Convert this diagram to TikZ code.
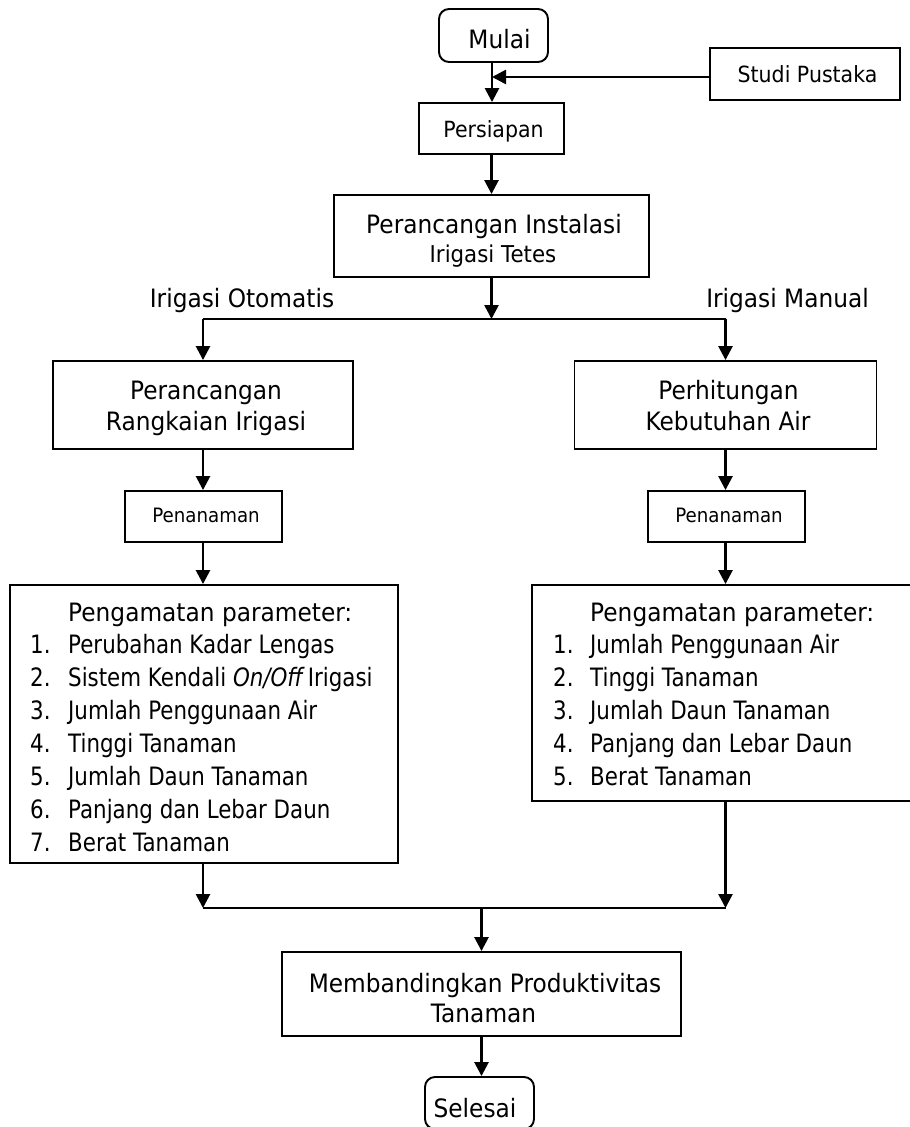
\documentclass[tikz,border=0pt]{standalone}
\usepackage{fontspec}
\setmainfont{DejaVu Sans}[FakeStretch=0.92]
\newfontfamily\listfont{DejaVu Sans}[FakeStretch=0.845]
\usetikzlibrary{arrows.meta}
\newcommand\szL{\fontsize{25.3}{30}\selectfont}
\newcommand\szM{\fontsize{23.2}{28}\selectfont}
\newcommand\szS{\fontsize{22.3}{27}\selectfont}
\newcommand\szT{\fontsize{19.8}{24}\selectfont}
\begin{document}
\begin{tikzpicture}[x=1pt,y=-1pt,
  box/.style={draw, line width=1.9pt, inner sep=0pt, rectangle},
  rbox/.style={box, rounded corners=10pt},
  txt/.style={inner sep=0pt, anchor=base},
  lst/.style={inner sep=0pt, anchor=base west, font=\szL},
  arr/.style={-{Triangle[length=14pt,width=14pt]}, line width=2.6pt},
  ln/.style={line width=2.1pt}]
\fill[white] (0,0) rectangle (910,1127);
\useasboundingbox (0,0) rectangle (910,1127);

% boxes
\node[rbox, minimum width=109pt, minimum height=53pt] (mulai) at (493.5,35.5) {};
\node[box, minimum width=190pt, minimum height=52pt] (studi) at (805,74) {};
\node[box, minimum width=145pt, minimum height=51pt] (persiapan) at (491.5,128.5) {};
\node[box, minimum width=315pt, minimum height=82pt] (instalasi) at (491.5,236) {};
\node[box, minimum width=300pt, minimum height=88pt] (rangkaian) at (203,405) {};
\node[box, minimum width=302pt, minimum height=88pt] (hitung) at (725.5,405) {};
\node[box, minimum width=157pt, minimum height=51pt] (tanam1) at (203.5,516.5) {};
\node[box, minimum width=157pt, minimum height=51pt] (tanam2) at (726.5,516.5) {};
\node[box, minimum width=388pt, minimum height=278pt] (paraml) at (204,724) {};
\node[box, minimum width=388pt, minimum height=216pt] (paramr) at (726,693) {};
\node[box, minimum width=399pt, minimum height=84pt] (banding) at (481.5,994) {};
\node[rbox, minimum width=109pt, minimum height=52pt] (selesai) at (479.5,1103) {};

% texts
\node[txt, font=\szL] (tmulai) at (499.5,48) {Mulai};
\node[txt, font=\szS] (tstudi) at (807.5,82) {Studi Pustaka};
\node[txt, font=\szS] (tpersiapan) at (493.5,137) {Persiapan};
\node[txt, font=\szL] (tinst1) at (494,233) {Perancangan Instalasi};
\node[txt, font=\szM] (tinst2) at (493,262) {Irigasi Tetes};
\node[txt, font=\szL] (totomatis) at (242,307) {Irigasi Otomatis};
\node[txt, font=\szL] (tmanual) at (787.5,307) {Irigasi Manual};
\node[txt, font=\szL] (trang1) at (206,399) {Perancangan};
\node[txt, font=\szL] (trang2) at (206,430) {Rangkaian Irigasi};
\node[txt, font=\szL] (thit1) at (728.5,399) {Perhitungan};
\node[txt, font=\szL] (thit2) at (728,430) {Kebutuhan Air};
\node[txt, font=\szT] (ttanam1) at (206,522) {Penanaman};
\node[txt, font=\szT] (ttanam2) at (729,522) {Penanaman};
\node[txt, font=\szL] (tband1) at (485,992) {Membandingkan Produktivitas};
\node[txt, font=\szL] (tband2) at (483.5,1022) {Tanaman};
\node[txt, font=\szL] (tselesai) at (475,1117) {Selesai};

% lists
\node[lst] (la0) at (68,621) {Pengamatan parameter:};
\foreach \t [count=\i] in {{Perubahan Kadar Lengas},{Sistem Kendali \textit{On/Off}\kern3pt Irigasi},{Jumlah Penggunaan Air},{Tinggi Tanaman},{Jumlah Daun Tanaman},{Panjang dan Lebar Daun},{Berat Tanaman}}
  \node[lst] (la\i) at (30,{653+33.1*(\i-1)}) {\listfont\makebox[38pt][l]{\i.}\t};
\node[lst] (lb0) at (590,621) {Pengamatan parameter:};
\foreach \t [count=\i] in {{Jumlah Penggunaan Air},{Tinggi Tanaman},{Jumlah Daun Tanaman},{Panjang dan Lebar Daun},{Berat Tanaman}}
  \node[lst] (lb\i) at (553,{653+33.1*(\i-1)}) {\listfont\makebox[37pt][l]{\i.}\t};

% junction coordinates
\coordinate (sj) at (492,77);
\coordinate (ja) at (491.5,319);
\coordinate (jal) at (203,319);
\coordinate (jar) at (725.5,319);
\coordinate (jbl) at (203,908);
\coordinate (jbr) at (725.5,908);
\coordinate (jb) at (481.5,908);

% connectors
\draw[arr] (mulai.south -| sj) -- (persiapan.north -| sj);
\draw[arr] (studi.west |- sj) -- (sj);
\draw[arr] (persiapan.south) -- (instalasi.north);
\draw[arr] (instalasi.south) -- (ja);
\draw[ln] (jal) -- (jar);
\draw[arr] (jal) -- (rangkaian.north);
\draw[arr] (jar) -- (hitung.north);
\draw[arr] (rangkaian.south) -- (tanam1.north -| rangkaian.south);
\draw[arr] (hitung.south) -- (tanam2.north -| hitung.south);
\draw[arr] (tanam1.south -| jal) -- (paraml.north -| jal);
\draw[arr] (tanam2.south -| jar) -- (paramr.north -| jar);
\draw[arr] (paraml.south -| jbl) -- (jbl);
\draw[arr] (paramr.south -| jbr) -- (jbr);
\draw[ln] (jbl) -- (jbr);
\draw[arr] (jb) -- (banding.north);
\draw[arr] (banding.south) -- (selesai.north -| banding.south);
\end{tikzpicture}
\end{document}
